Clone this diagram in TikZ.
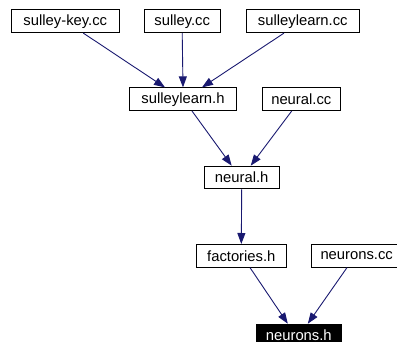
\documentclass[tikz,border=0pt]{standalone}
\usepackage{fontspec}
\setmainfont{Liberation Sans}
\usetikzlibrary{arrows.meta}
\definecolor{edgeblue}{HTML}{191970}
\begin{document}
\begin{tikzpicture}[x=1pt,y=-1pt,
  file/.style={draw=black, line width=0.9pt, fill=white, inner sep=0pt,
    minimum height=22.7pt, font=\fontsize{14.8}{16}\selectfont},
  focus/.style={file, fill=black, text=white},
  edge/.style={draw=edgeblue, line width=0.9pt,
    -{Triangle[length=11pt,width=8pt]}}]
\useasboundingbox (0,0) rectangle (397,342);
\clip (0,0) rectangle (397,342);
% file nodes
\node[file, minimum width=107.3pt] (skey)  at (65.3,21.3)  {sulley-key.cc};
\node[file, minimum width=75.7pt]  (sul)   at (182.2,21.3) {sulley.cc};
\node[file, minimum width=112.3pt] (slcc)  at (302.8,21.3) {sulleylearn.cc};
\node[file, minimum width=107.4pt] (slh)   at (183,99.2)   {sulleylearn.h};
\node[file, minimum width=78.7pt]  (ncc)   at (301.3,99.2) {neural.cc};
\node[file, minimum width=74.7pt]  (nh)    at (241.7,177.5){neural.h};
\node[file, minimum width=89.3pt]  (fh)    at (241.3,255.8){factories.h};
\node[file, minimum width=90pt]    (nscc)  at (356.7,255.8){neurons.cc};
\node[focus, minimum width=84.3pt] (nsh)   at (298.8,335.5){neurons.h};
% include edges
\draw[edge] ([xshift=18pt]skey.south) -- ([xshift=-18pt]slh.north);
\draw[edge] (sul.south) -- (slh.north);
\draw[edge] ([xshift=-18.8pt]slcc.south) -- ([xshift=19pt]slh.north);
\draw[edge] ([xshift=9pt]slh.south) -- ([xshift=-10pt]nh.north);
\draw[edge] ([xshift=-9.6pt]ncc.south) -- ([xshift=9pt]nh.north);
\draw[edge] (nh.south) -- (fh.north);
\draw[edge] ([xshift=8.7pt]fh.south) -- ([xshift=-11pt]nsh.north);
\draw[edge] ([xshift=-9.7pt]nscc.south) -- ([xshift=9pt]nsh.north);
\end{tikzpicture}
\end{document}
